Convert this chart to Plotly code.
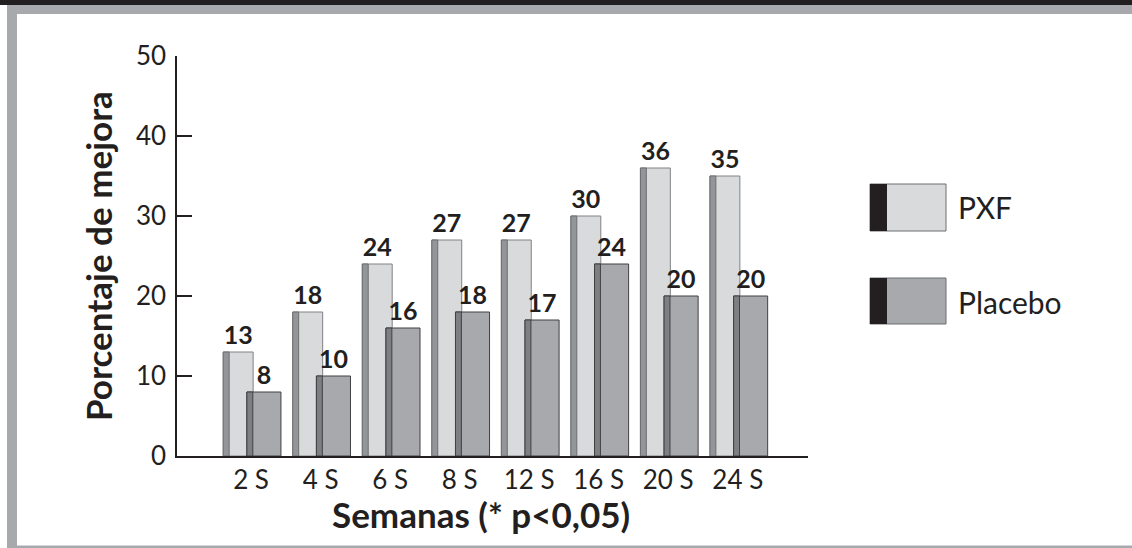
import plotly.graph_objects as go

# ---- data ----
weeks = ["2 S", "4 S", "6 S", "8 S", "12 S", "16 S", "20 S", "24 S"]
pxf = [13, 18, 24, 27, 27, 30, 36, 35]
placebo = [8, 10, 16, 18, 17, 24, 20, 20]
series_names = ["PXF", "Placebo"]
y_ticks = [0, 10, 20, 30, 40, 50]

# ---- layout constants (pixels) ----
W, H = 1132, 548
X0, X1 = 177, 808      # plot area left/right
Y0, Y1 = 56, 456       # plot area top/bottom

def px(x):
    return (x - X0) / (X1 - X0)

def py(y):
    return (Y1 - y) / (Y1 - Y0)

FONT = "Lato"
DARK = "#231f20"
PXF_FILL, PXF_SIDE = "#d9dadb", "#939598"
PLA_FILL, PLA_SIDE = "#a7a9ac", "#7d7f82"

fig = go.Figure()

# PXF main bars
fig.add_trace(go.Bar(
    x=weeks, y=pxf, name=series_names[0], offset=-0.40, width=0.43,
    marker=dict(color=PXF_FILL, line=dict(color="#808285", width=1)),
    text=pxf, textposition="outside", cliponaxis=False,
    textfont=dict(family=FONT, size=25, color=DARK, weight="bold"),
    showlegend=False,
))
# PXF side strip
fig.add_trace(go.Bar(
    x=weeks, y=pxf, offset=-0.40, width=0.085,
    marker=dict(color=PXF_SIDE, line=dict(color="#6d6e71", width=1)),
    showlegend=False, hoverinfo="skip",
))
# Placebo main bars
fig.add_trace(go.Bar(
    x=weeks, y=placebo, name=series_names[1], offset=-0.06, width=0.49,
    marker=dict(color=PLA_FILL, line=dict(color="#414042", width=1)),
    text=placebo, textposition="outside", cliponaxis=False,
    textfont=dict(family=FONT, size=25, color=DARK, weight="bold"),
    showlegend=False,
))
# Placebo side strip
fig.add_trace(go.Bar(
    x=weeks, y=placebo, offset=-0.06, width=0.085,
    marker=dict(color=PLA_SIDE, line=dict(color="#414042", width=1)),
    showlegend=False, hoverinfo="skip",
))

shapes = [
    # frame: dark top band, gray band, left gray border, bottom gray line
    dict(type="rect", xref="paper", yref="paper", x0=px(0), x1=px(W), y0=py(0), y1=py(5),
         fillcolor=DARK, line=dict(width=0), layer="below"),
    dict(type="rect", xref="paper", yref="paper", x0=px(7), x1=px(W), y0=py(5), y1=py(14),
         fillcolor="#a7a9ac", line=dict(width=0), layer="below"),
    dict(type="rect", xref="paper", yref="paper", x0=px(7), x1=px(17), y0=py(5), y1=py(H),
         fillcolor="#a7a9ac", line=dict(width=0), layer="below"),
    dict(type="rect", xref="paper", yref="paper", x0=px(7), x1=px(W), y0=py(545.5), y1=py(H),
         fillcolor="#a7a9ac", line=dict(width=0), layer="below"),
]

# legend swatches
legend_rows = [(184, 231, PXF_FILL, 207), (278, 324, PLA_FILL, 302)]
annotations = []
for (ytop, ybot, fill, ytxt), name in zip(legend_rows, series_names):
    shapes.append(dict(type="rect", xref="paper", yref="paper",
                       x0=px(870), x1=px(946), y0=py(ybot), y1=py(ytop),
                       fillcolor=fill, line=dict(color="#6d6e71", width=1)))
    shapes.append(dict(type="rect", xref="paper", yref="paper",
                       x0=px(870), x1=px(887), y0=py(ybot), y1=py(ytop),
                       fillcolor=DARK, line=dict(width=0)))
    annotations.append(dict(text=name, xref="paper", yref="paper", x=px(956), y=py(ytxt),
                            xanchor="left", yanchor="middle", showarrow=False,
                            font=dict(family=FONT, size=30, color=DARK)))

# axis titles
annotations.append(dict(text="<b>Semanas (* p<0,05)</b>", xref="paper", yref="paper",
                        x=px(481), y=py(514), xanchor="center", yanchor="middle",
                        showarrow=False, font=dict(family=FONT, size=35, color=DARK)))
annotations.append(dict(text="<b>Porcentaje de mejora</b>", xref="paper", yref="paper",
                        x=px(98), y=py(256), xanchor="center", yanchor="middle",
                        textangle=-90, showarrow=False,
                        font=dict(family=FONT, size=35, color=DARK)))

fig.update_layout(
    width=W, height=H,
    margin=dict(l=X0, r=W - X1, t=Y0, b=H - Y1, autoexpand=False),
    paper_bgcolor="white", plot_bgcolor="white",
    barmode="overlay",
    shapes=shapes, annotations=annotations,
    xaxis=dict(
        type="category", range=[-1.065, 8.01], showgrid=False, zeroline=False,
        showline=True, linecolor=DARK, linewidth=1.5, ticks="",
        tickfont=dict(family=FONT, size=26, color=DARK), fixedrange=True,
    ),
    yaxis=dict(
        range=[0, 50], tickvals=y_ticks, showgrid=False, zeroline=False,
        showline=True, linecolor=DARK, linewidth=1.5,
        ticks="inside", ticklen=15, tickwidth=1.5, tickcolor=DARK,
        ticklabelstandoff=4,
        tickfont=dict(family=FONT, size=26, color=DARK), fixedrange=True,
    ),
)

fig.write_html("out.html")
